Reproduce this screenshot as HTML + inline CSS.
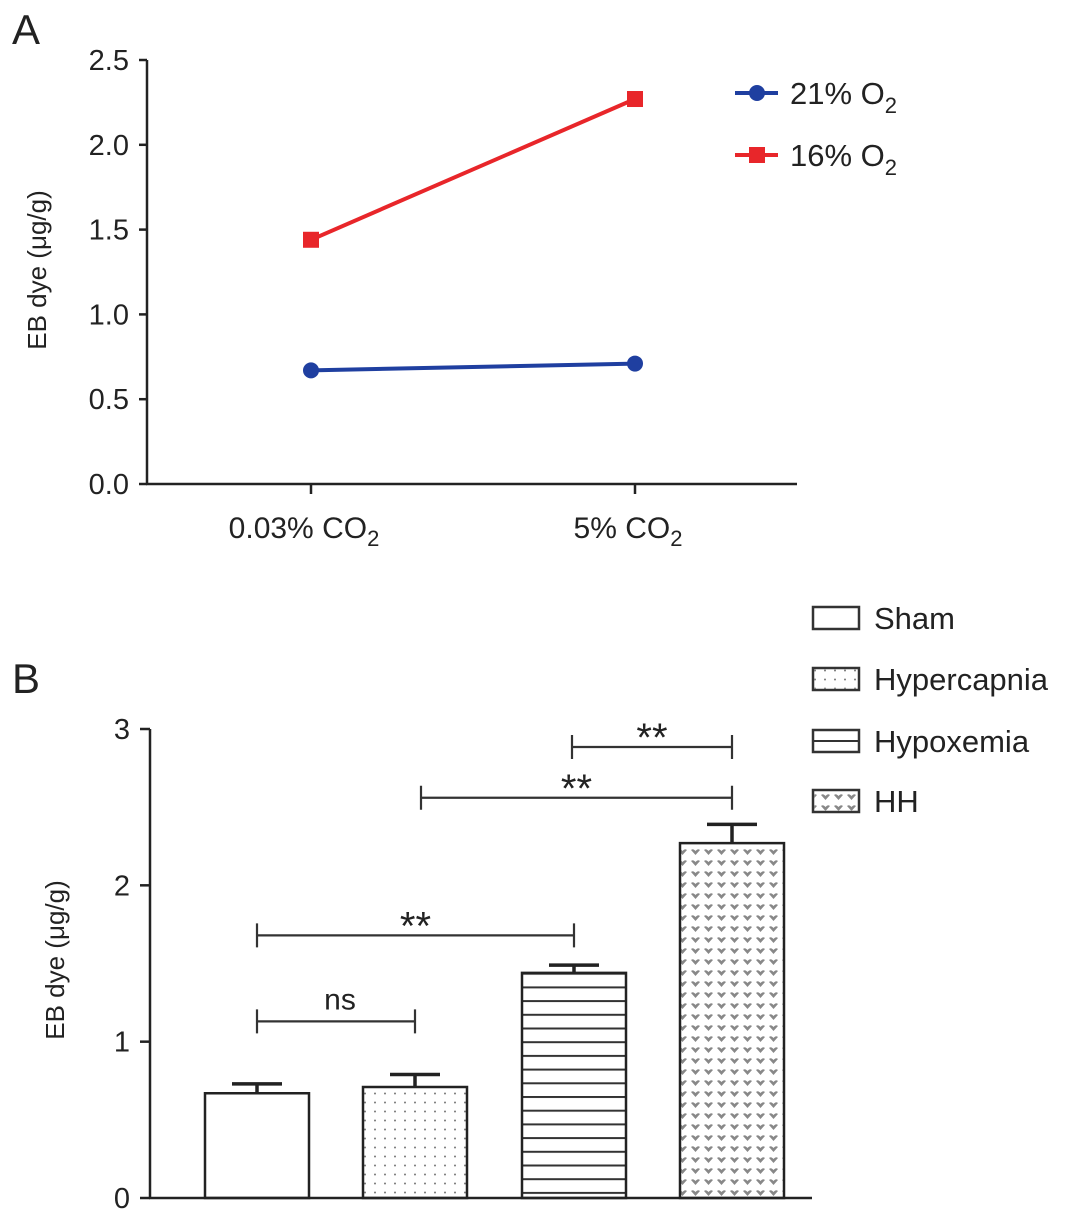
<!DOCTYPE html>
<html><head><meta charset="utf-8"><style>
body{margin:0;background:#fff;}
svg text{font-family:"Liberation Sans",sans-serif;fill:#222;}
</style></head><body>
<svg id="c" width="1087" height="1220" xmlns="http://www.w3.org/2000/svg">
<defs>
<pattern id="dots" width="10" height="9" patternUnits="userSpaceOnUse"><circle cx="5" cy="4.5" r="1" fill="#777"/></pattern>
<pattern id="hlines" width="10" height="13.7" patternUnits="userSpaceOnUse"><rect x="0" y="0" width="10" height="2" fill="#333"/></pattern>
<pattern id="hearts" width="13" height="11" patternUnits="userSpaceOnUse"><path d="M2,3 Q4,1 6.5,4 Q9,1 11,3 L6.5,8 Z" fill="#888"/></pattern>
</defs>
<g id="gA"></g>
<g id="gB"></g>
</svg>
<script>
const catsA = ["0.03% CO", "5% CO"];
const series21 = [0.67, 0.71];
const series16 = [1.44, 2.27];
const ticksA = [0, 0.5, 1.0, 1.5, 2.0, 2.5];
const catsB = ["Sham", "Hypercapnia", "Hypoxemia", "HH"];
const valsB = [0.67, 0.71, 1.44, 2.27];
const errB = [0.06, 0.08, 0.05, 0.12];
const ticksB = [0, 1, 2, 3];
const sigLabels = ["ns", "**", "**", "**"];
const sigPairs = [[0,1],[0,2],[1,3],[2,3]];
const sigLevels = [1.13, 1.68, 2.56, 2.885];

const NS="http://www.w3.org/2000/svg";
function mk(p,t,a,txt){const e=document.createElementNS(NS,t);for(const k in a)e.setAttribute(k,a[k]);if(txt!==undefined)e.textContent=txt;p.appendChild(e);return e;}
const gA=document.getElementById('gA'), gB=document.getElementById('gB');

// Panel A
const yA=v=>484-v*(424/2.5);
const xA=i=>[311,635][i];
let t=mk(gA,'text',{x:12,y:44,'font-size':42});t.textContent='A';


let ax=mk(gA,'line',{x1:147,y1:60,x2:147,y2:485,stroke:'#222','stroke-width':2.5});


ax=mk(gA,'line',{x1:146,y1:484,x2:797,y2:484,stroke:'#222','stroke-width':2.5});


ticksA.forEach(v=>{
  mk(gA,'line',{x1:139,y1:yA(v),x2:147,y2:yA(v),stroke:'#222','stroke-width':2.5});
  const l=mk(gA,'text',{x:129,y:yA(v)+10,'font-size':29,'text-anchor':'end'},v.toFixed(1));
  
  
});
catsA.forEach((c,i)=>{
  mk(gA,'line',{x1:xA(i),y1:484,x2:xA(i),y2:494,stroke:'#222','stroke-width':2.5});
  const l=mk(gA,'text',{x:xA(i)-7,y:538,'font-size':30,'text-anchor':'middle'});
  l.innerHTML=c+'<tspan dy="8" font-size="22">2</tspan>';
  
  
});
t=mk(gA,'text',{x:0,y:0,'font-size':26,'text-anchor':'middle',transform:'translate(46,270) rotate(-90)'},'EB dye (μg/g)');


function seriesLine(vals,col,marker,name){
  const pts=vals.map((v,i)=>xA(i)+','+yA(v)).join(' ');
  const pl=mk(gA,'polyline',{points:pts,fill:'none',stroke:col,'stroke-width':4});
  
  
  vals.forEach((v,i)=>{
    const m=marker=='c'?mk(gA,'circle',{cx:xA(i),cy:yA(v),r:8,fill:col}):mk(gA,'rect',{x:xA(i)-8,y:yA(v)-8,width:16,height:16,fill:col});
    
    
  });
}
seriesLine(series21,'#1f3fa0','c','o2-21');
seriesLine(series16,'#e8262a','s','o2-16');
[['#1f3fa0','c','21% O',93],['#e8262a','s','16% O',155]].forEach(([col,m,lab,y])=>{
  const g=mk(gA,'g',{});
  
  
  mk(g,'line',{x1:735,y1:y,x2:778,y2:y,stroke:col,'stroke-width':4});
  if(m=='c')mk(g,'circle',{cx:757,cy:y,r:8,fill:col});else mk(g,'rect',{x:749,y:y-8,width:16,height:16,fill:col});
  const tt=mk(g,'text',{x:790,y:y+11,'font-size':31});
  tt.innerHTML=lab+'<tspan dy="9" font-size="22">2</tspan>';
});

// Panel B
const yB=v=>1198-v*(469/3);
const bx=[205,363,522,680], bw=104;
const fills=['#fff','url(#dots)','url(#hlines)','url(#hearts)'];
t=mk(gB,'text',{x:12,y:693,'font-size':42},'B');


catsB.forEach((c,i)=>{
  const top=yB(valsB[i]);
  mk(gB,'rect',{x:bx[i],y:top,width:bw,height:1198-top,fill:'#fff'});
  const r=mk(gB,'rect',{x:bx[i],y:top,width:bw,height:1198-top,fill:fills[i],stroke:'#222','stroke-width':2.5});
  
  
  const cx=bx[i]+bw/2, et=yB(valsB[i]+errB[i]);
  const e=mk(gB,'path',{d:`M${cx},${top}V${et}M${cx-25},${et}H${cx+25}`,stroke:'#222','stroke-width':3.5,fill:'none'});
  
  
});
ax=mk(gB,'line',{x1:150,y1:729,x2:150,y2:1199,stroke:'#222','stroke-width':2.5});


ax=mk(gB,'line',{x1:149,y1:1198,x2:812,y2:1198,stroke:'#222','stroke-width':2.5});


ticksB.forEach(v=>{
  mk(gB,'line',{x1:140,y1:yB(v),x2:150,y2:yB(v),stroke:'#222','stroke-width':2.5});
  const l=mk(gB,'text',{x:130,y:yB(v)+10,'font-size':29,'text-anchor':'end'},String(v));
  
  
});
t=mk(gB,'text',{x:0,y:0,'font-size':26,'text-anchor':'middle',transform:'translate(64,960) rotate(-90)'},'EB dye (μg/g)');


sigPairs.forEach((p,k)=>{
  const x1=bx[p[0]]+bw/2+(k==2?6:0)+(k==3?-2:0), x2=bx[p[1]]+bw/2, y=yB(sigLevels[k]);
  const g=mk(gB,'g',{});
  
  
  mk(g,'path',{d:`M${x1},${y-12}V${y+12}M${x1},${y}H${x2}M${x2},${y-12}V${y+12}`,stroke:'#333','stroke-width':2.2,fill:'none'});
  if(sigLabels[k]=='ns') mk(g,'text',{x:(x1+x2)/2+4,y:y-12,'font-size':30,'text-anchor':'middle'},'ns');
  else mk(g,'text',{x:(x1+x2)/2,y:y+4,'font-size':40,'text-anchor':'middle'},sigLabels[k]);
});
const legY=[618,679,741,801], legF=['#fff','url(#dots)','url(#hlines)','url(#hearts)'];
catsB.forEach((c,i)=>{
  const g=mk(gB,'g',{});
  
  
  mk(g,'rect',{x:813,y:legY[i]-11,width:46,height:22,fill:'#fff',stroke:'#333','stroke-width':2.5});
  if(i==2){mk(g,'line',{x1:813,y1:legY[i],x2:859,y2:legY[i],stroke:'#333','stroke-width':2});}
  else if(i>0)mk(g,'rect',{x:814,y:legY[i]-10,width:44,height:20,fill:legF[i]});
  mk(g,'text',{x:874,y:legY[i]+11,'font-size':31},c);
});
</script>
</body></html>
